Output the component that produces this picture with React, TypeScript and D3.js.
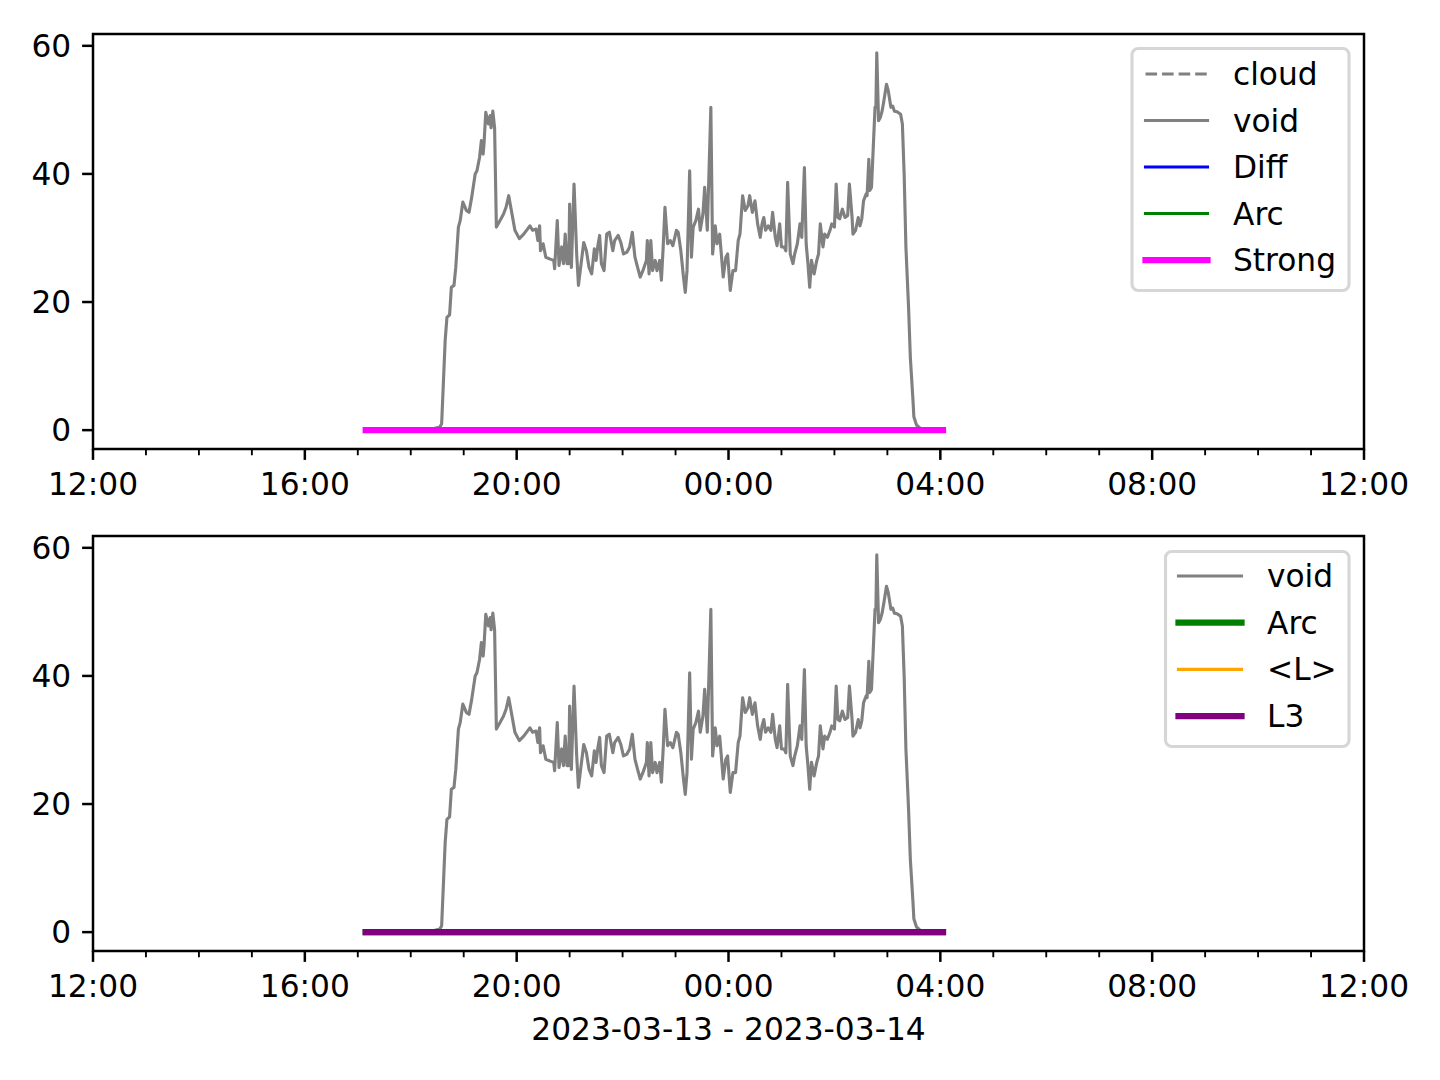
import React from "react";
import * as d3 from "d3";

// ---- data (minutes after 2023-03-13 12:00) ----
const START = new Date(2023, 2, 13, 12, 0);
const END = new Date(2023, 2, 14, 12, 0);

const voidMinutes = [
  309, 382, 393, 395, 399, 401, 404, 406, 409, 411, 414, 416, 419, 423, 426, 429, 433, 435, 438, 440,
  442, 443, 445, 448, 450, 451, 453, 455, 457, 461, 465, 468, 471, 474, 478, 483, 488, 495, 498, 502,
  504, 506, 507, 510, 513, 518, 522, 523, 526, 528, 531, 533, 535, 537, 539, 540, 542, 545, 548, 550,
  553, 556, 559, 562, 565, 568, 570, 572, 574, 576, 579, 582, 585, 589, 591, 595, 598, 601, 605, 608,
  611, 614, 617, 620, 623, 627, 628, 630, 632, 634, 637, 639, 642, 644, 646, 648, 651, 654, 657, 661,
  663, 666, 669, 671, 673, 676, 678, 680, 683, 686, 688, 691, 693, 696, 700, 702, 705, 707, 710, 714,
  717, 719, 722, 725, 728, 731, 733, 736, 739, 742, 744, 747, 750, 753, 756, 758, 760, 762, 765, 768,
  770, 773, 775, 778, 780, 783, 785, 787, 790, 793, 795, 798, 801, 803, 806, 808, 810, 812, 814, 817,
  820, 822, 824, 827, 829, 832, 835, 837, 840, 842, 844, 846, 849, 852, 855, 857, 860, 861, 864, 867,
  869, 871, 873, 876, 877, 879, 880, 882, 884, 886, 887, 888, 890, 892, 894, 896, 899, 901, 904, 906,
  908, 911, 915, 917, 919, 921, 924, 926, 929, 930, 933, 937, 963,
];
const voidValues = [
  0, 0.1, 0.5, 1, 14, 17.6, 18, 22.3, 22.6, 25.4, 31.7, 32.7, 35.6, 34.3, 34, 36.3, 40, 40.5, 42.6, 45.2,
  43.1, 44.7, 49.6, 47.8, 49.1, 47.2, 49.8, 47.2, 31.7, 32.7, 33.7, 34.8, 36.6, 34.3, 31.2, 29.9, 30.6, 31.9, 31.2, 31.4,
  29.6, 31.9, 28, 29.1, 27, 26.7, 26.5, 25.2, 32.7, 25.7, 28.6, 26, 30.6, 26, 26, 35.3, 25.4, 38.4, 27.5, 22.6,
  26, 29.3, 28, 25.4, 24.4, 28.3, 26.5, 28.8, 30.4, 26, 24.9, 30.6, 30.9, 28, 29.6, 30.4, 29.3, 27.5, 27.8, 28.6,
  30.9, 27, 25.4, 23.9, 24.9, 26.5, 29.6, 24.4, 29.6, 24.9, 26.5, 24.9, 26.5, 23.4, 28.6, 34.8, 29.1, 29.6, 28.8, 31.2,
  30.9, 28, 23.9, 21.5, 24.9, 40.5, 27, 31.7, 32.7, 34.5, 31.2, 33.7, 37.9, 31.2, 50.4, 27.5, 31.9, 29.1, 30.6, 23.9,
  27, 27.5, 21.8, 24.9, 24.9, 29.6, 30.6, 36.6, 34.3, 35, 36.6, 34, 35.8, 32.2, 30.1, 32.2, 33.2, 31.2, 31.9, 31.2,
  34, 30.1, 28.8, 32.2, 28.6, 28.6, 28, 38.7, 27.5, 26, 27.5, 29.1, 32.2, 30.1, 41, 29.1, 26, 22.3, 26.5, 24.4,
  26.5, 27.5, 32.2, 28.6, 30.6, 30.1, 31.2, 32.2, 31.7, 38.4, 33.2, 33, 34.5, 33.2, 33.5, 38.4, 33.2, 30.6, 31.2, 33.2,
  31.9, 33, 35.8, 36.9, 36.6, 42.3, 37.4, 37.9, 44.1, 50.4, 50.4, 58.9, 48.3, 48.8, 49.8, 51.4, 54, 53, 50.4, 50.6,
  49.8, 49.7, 49.3, 47.8, 40, 28.6, 19.2, 11.4, 4.7, 2.1, 0.8, 0.3, 0,
];
// flat series (cloud, Diff, Arc, Strong, <L>, L3) sit at zero over the run
const flatMinutes = [309, 963];
const flatValues = [0, 0];

const yTickValues = [0, 20, 40, 60];
const xLabel = "2023-03-13 - 2023-03-14";

type Series = { label: string; minutes: number[]; values: number[]; color: string; width: number; dash?: string };

const LW = 3.125;
const topSeries: Series[] = [
  { label: "cloud", minutes: flatMinutes, values: flatValues, color: "#808080", width: LW, dash: "11.56 5" },
  { label: "void", minutes: voidMinutes, values: voidValues, color: "#808080", width: LW },
  { label: "Diff", minutes: flatMinutes, values: flatValues, color: "#0000ff", width: LW },
  { label: "Arc", minutes: flatMinutes, values: flatValues, color: "#008000", width: LW },
  { label: "Strong", minutes: flatMinutes, values: flatValues, color: "#ff00ff", width: 2 * LW },
];
const bottomSeries: Series[] = [
  { label: "void", minutes: voidMinutes, values: voidValues, color: "#808080", width: LW },
  { label: "Arc", minutes: flatMinutes, values: flatValues, color: "#008000", width: 2 * LW },
  { label: "<L>", minutes: flatMinutes, values: flatValues, color: "#ffa500", width: LW },
  { label: "L3", minutes: flatMinutes, values: flatValues, color: "#800080", width: 2 * LW },
];

const FONT = "DejaVu Sans, sans-serif";
const FS = 31.25;
const LEFT = 93;
const RIGHT = 1364;

const toDate = (m: number) => new Date(START.getTime() + m * 60000);

function Panel({ top, bottom, series, legend }: {
  top: number; bottom: number; series: Series[];
  legend: { x: number; y: number; w: number; h: number; hx0: number; hx1: number; tx: number; row0: number; step: number };
}) {
  const x = d3.scaleTime().domain([START, END]).range([LEFT, RIGHT]);
  const all = series.flatMap((s) => s.values);
  const lo = d3.min(all) as number;
  const hi = d3.max(all) as number;
  const pad = (hi - lo) * 0.05;
  const y = d3.scaleLinear().domain([lo - pad, hi + pad]).range([bottom, top]);
  const majors = d3.timeHour.every(4)!.range(START, new Date(END.getTime() + 1));
  const minors = d3.timeHour.every(1)!.range(START, new Date(END.getTime() + 1)).filter((d) => d.getHours() % 4 !== 0);
  const fmt = d3.timeFormat("%H:%M");
  const line = d3.line<[number, number]>().x((d) => x(toDate(d[0]))).y((d) => y(d[1]));

  return (
    <g>
      {series.map((s, i) => (
        <path
          key={i}
          d={line(s.minutes.map((m, j) => [m, s.values[j]] as [number, number])) || ""}
          fill="none"
          stroke={s.color}
          strokeWidth={s.width}
          strokeLinejoin="round"
          strokeLinecap={s.dash ? "butt" : "square"}
          strokeDasharray={s.dash}
        />
      ))}
      <rect x={LEFT} y={top} width={RIGHT - LEFT} height={bottom - top} fill="none" stroke="#000" strokeWidth={2.5} />
      {yTickValues.map((v) => (
        <g key={v}>
          <line x1={LEFT} x2={LEFT - 10.9} y1={y(v)} y2={y(v)} stroke="#000" strokeWidth={2.5} />
          <text x={LEFT - 21.8} y={y(v) + 11.2} textAnchor="end" fontFamily={FONT} fontSize={FS} fill="#000">{v}</text>
        </g>
      ))}
      {majors.map((d, i) => (
        <g key={"M" + i}>
          <line x1={x(d)} x2={x(d)} y1={bottom} y2={bottom + 10.9} stroke="#000" strokeWidth={2.5} />
          <text x={x(d)} y={bottom + 46} textAnchor="middle" fontFamily={FONT} fontSize={FS} fill="#000">{fmt(d)}</text>
        </g>
      ))}
      {minors.map((d, i) => (
        <line key={"m" + i} x1={x(d)} x2={x(d)} y1={bottom} y2={bottom + 6.25} stroke="#000" strokeWidth={1.875} />
      ))}
      <g>
        <rect x={legend.x} y={legend.y} width={legend.w} height={legend.h} rx={6.25} ry={6.25}
          fill="#fff" fillOpacity={0.8} stroke="#d6d6d6" strokeWidth={3.125} />
        {series.map((s, i) => {
          const ry = legend.row0 + i * legend.step;
          return (
            <g key={"l" + i}>
              <line x1={legend.hx0} x2={legend.hx1} y1={ry} y2={ry} stroke={s.color} strokeWidth={s.width}
                strokeDasharray={s.dash} strokeLinecap={s.dash ? "butt" : "square"} />
              <text x={legend.tx} y={ry + 11} fontFamily={FONT} fontSize={FS} fill="#000">{s.label}</text>
            </g>
          );
        })}
      </g>
    </g>
  );
}

export default function App() {
  return (
    <svg width={1440} height={1080} style={{ position: "absolute", left: 0, top: 0, background: "#fff" }}>
      <rect x={0} y={0} width={1440} height={1080} fill="#fff" />
      <Panel top={34} bottom={449} series={topSeries}
        legend={{ x: 1132, y: 48.5, w: 217, h: 242, hx0: 1145.5, hx1: 1207.5, tx: 1233, row0: 74, step: 46.5 }} />
      <Panel top={536} bottom={951} series={bottomSeries}
        legend={{ x: 1165.5, y: 551.5, w: 183.5, h: 195, hx0: 1178.5, hx1: 1241.5, tx: 1267, row0: 576, step: 46.7 }} />
      <text x={(LEFT + RIGHT) / 2} y={1040} textAnchor="middle" fontFamily={FONT} fontSize={FS} fill="#000">{xLabel}</text>
    </svg>
  );
}
